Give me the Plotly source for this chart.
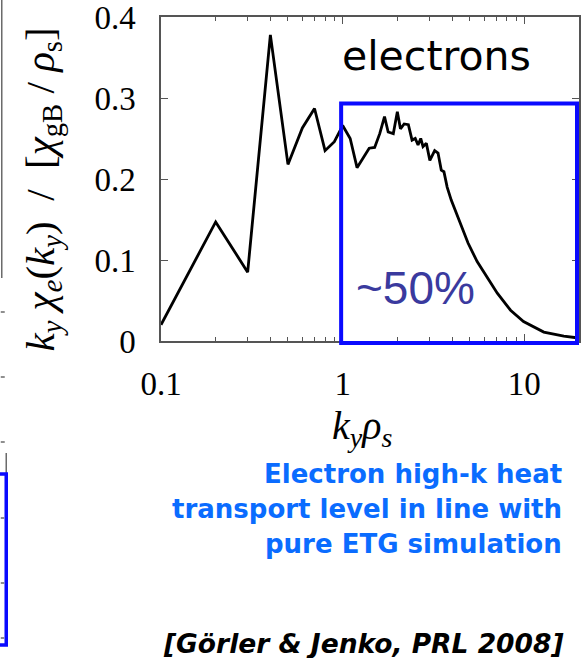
import plotly.graph_objects as go

# Electron heat flux spectrum k_y * chi_e(k_y) vs k_y rho_s
ky_rho_s = [0.1, 0.2, 0.3, 0.4, 0.5, 0.6, 0.7, 0.8, 0.9, 1.0, 1.1, 1.2, 1.4, 1.5,
            1.6, 1.7, 1.78, 1.9, 2.0, 2.08, 2.18, 2.3, 2.41, 2.51, 2.6, 2.69, 2.77,
            2.89, 3.02, 3.21, 3.35, 3.49, 3.61, 3.76, 3.96, 4.4, 4.9, 5.5, 6.3, 7.1,
            8.4, 9.9, 12.8, 16.5, 19.4]
chi_e_spectrum = [0.020, 0.147, 0.085, 0.378, 0.218, 0.263, 0.287, 0.235, 0.246,
                  0.266, 0.250, 0.214, 0.238, 0.239, 0.256, 0.277, 0.258, 0.256,
                  0.283, 0.262, 0.268, 0.267, 0.248, 0.250, 0.242, 0.250, 0.240,
                  0.244, 0.223, 0.235, 0.232, 0.211, 0.209, 0.190, 0.174, 0.147,
                  0.121, 0.098, 0.078, 0.059, 0.038, 0.024, 0.011, 0.006, 0.004]

x_ticks = [0.1, 1, 10]
x_tick_labels = ["0.1", "1", "10"]
x_minor_ticks = [0.2, 0.3, 0.4, 0.5, 0.6, 0.7, 0.8, 0.9,
                 2, 3, 4, 5, 6, 7, 8, 9, 20]
y_ticks = [0, 0.1, 0.2, 0.3, 0.4]
y_tick_labels = ["0", "0.1", "0.2", "0.3", "0.4"]

W, H = 581, 658
L, R, T, B = 161, 0, 17, 317
PW, PH = W - L - R, H - T - B


def px(xp):
    return (xp - L) / PW


def py(yp):
    return (H - B - yp) / PH


AXIS_GRAY = "#555555"
SERIF = "Liberation Serif, Times New Roman, serif"
SANS = "DejaVu Sans, Arial, sans-serif"

fig = go.Figure()
fig.add_trace(go.Scatter(
    x=ky_rho_s, y=chi_e_spectrum, mode="lines",
    line=dict(color="black", width=2.8), showlegend=False, hoverinfo="skip",
))

axis_common = dict(
    showline=True, linecolor=AXIS_GRAY, linewidth=1.5, mirror="allticks",
    ticks="inside", tickcolor=AXIS_GRAY, tickwidth=1.4, ticklen=7,
    showgrid=False, zeroline=False, ticklabeloverflow="allow",
    tickfont=dict(family=SERIF, size=33, color="black"),
)

fig.update_xaxes(
    type="log", range=[-1, 1.30103],
    tickmode="array", tickvals=x_ticks, ticktext=x_tick_labels, ticklabelstandoff=13,
    minor=dict(tickmode="array", tickvals=x_minor_ticks, ticks="inside", ticklen=4,
               tickcolor=AXIS_GRAY, tickwidth=1.3, showgrid=False),
    **axis_common,
)
fig.update_yaxes(
    range=[0, 0.4], tickmode="array", tickvals=y_ticks, ticktext=y_tick_labels,
    ticklabelstandoff=17, **axis_common,
)

shapes = []
# highlighted high-k region
shapes.append(dict(type="rect", xref="paper", yref="paper",
                   x0=px(342), x1=px(579), y0=py(343), y1=py(103.5),
                   line=dict(color="#0a0aff", width=4)))

# neighbouring panel edge on the left
gray_line = dict(color="#6a6a6a", width=1.5)
shapes.append(dict(type="line", xref="paper", yref="paper",
                   x0=px(1), x1=px(1), y0=py(0), y1=py(278), line=gray_line))
for yy in [312, 377, 442]:
    shapes.append(dict(type="line", xref="paper", yref="paper",
                       x0=px(0), x1=px(4), y0=py(yy), y1=py(yy), line=gray_line))
shapes.append(dict(type="line", xref="paper", yref="paper",
                   x0=px(5.5), x1=px(5.5), y0=py(453), y1=py(473), line=gray_line))
shapes.append(dict(type="rect", xref="paper", yref="paper",
                   x0=px(-10), x1=px(5.5), y0=py(645), y1=py(474),
                   line=dict(color="#0a0aff", width=3.5)))
for yy in [518, 583, 638]:
    shapes.append(dict(type="line", xref="paper", yref="paper",
                       x0=px(0), x1=px(3.5), y0=py(yy), y1=py(yy), line=gray_line))
fig.update_layout(shapes=shapes)

annotations = [
    dict(text="electrons", x=px(438), y=py(56), xanchor="center", yanchor="middle",
         font=dict(family=SANS, size=41, color="black")),
    dict(text="~50%", x=px(417), y=py(288), xanchor="center", yanchor="middle",
         font=dict(family="Liberation Sans, Arial, sans-serif", size=46, color="#3a3a9e")),
    dict(text="<i>k<sub>y</sub>ρ<sub>s</sub></i>", x=px(363), y=py(428),
         xanchor="center", yanchor="middle",
         font=dict(family=SERIF, size=40, color="black")),
    dict(text="<i>k<sub>y</sub></i> <i>χ<sub>e</sub></i>(<i>k<sub>y</sub></i>)  /  "
              "[<i>χ</i><sub>gB</sub> / <i>ρ</i><sub>s</sub>]",
         x=px(42), y=py(190), xanchor="center", yanchor="middle", textangle=-90,
         font=dict(family=SERIF, size=41, color="black")),
    dict(text="<b>Electron high-k heat</b>", x=px(566), y=py(474),
         xanchor="right", yanchor="middle",
         font=dict(family=SANS, size=26, color="#0a6cff")),
    dict(text="<b>transport level in line with</b>", x=px(566), y=py(508.5),
         xanchor="right", yanchor="middle",
         font=dict(family=SANS, size=26, color="#0a6cff")),
    dict(text="<b>pure ETG simulation</b>", x=px(566), y=py(543.5),
         xanchor="right", yanchor="middle",
         font=dict(family=SANS, size=26, color="#0a6cff")),
    dict(text="<b><i>[Görler &amp; Jenko, PRL 2008]</i></b>", x=px(568), y=py(643),
         xanchor="right", yanchor="middle",
         font=dict(family=SANS, size=26.5, color="black")),
]
for a in annotations:
    a.update(xref="paper", yref="paper", showarrow=False)
fig.update_layout(annotations=annotations)

fig.update_layout(
    width=W, height=H, margin=dict(l=L, r=R, t=T, b=B, pad=0),
    paper_bgcolor="white", plot_bgcolor="white",
)

fig.write_html("out.html")
